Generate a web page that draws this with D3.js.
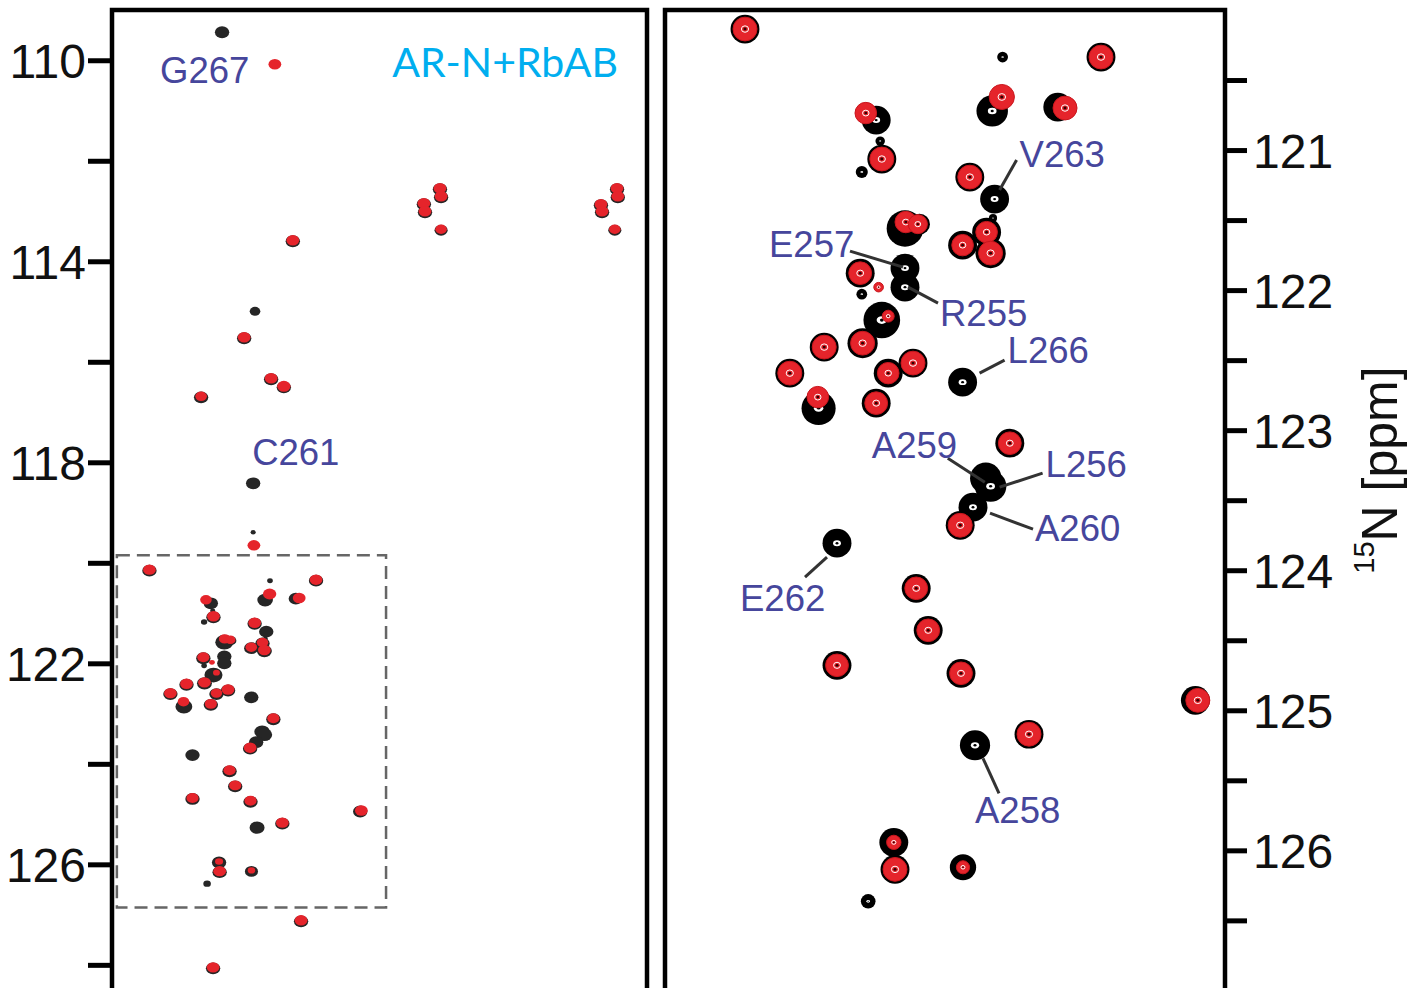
<!DOCTYPE html>
<html lang="en">
<head>
<meta charset="utf-8">
<title>AR-N + RbAB 1H-15N HSQC overlay</title>
<script src="https://d3js.org/d3.v7.min.js"></script>
<style>
  body { margin: 0; background: #fff; }
  svg { display: block; }
  .tick-label { font-family: "Liberation Sans", Arial, sans-serif; font-size: 48px; fill: #111; }
  .res-label { font-family: "Liberation Sans", Arial, sans-serif; font-size: 36.5px; fill: #46469c; }
</style>
</head>
<body>
<script>
"use strict";

// peaks: [1H ppm, 15N ppm, relative contour size]
// free AR-N (black)
const freePeaks = [
  [8.500, 120.136, 1], [8.178, 120.336, 0.3], [8.191, 120.721, 1.1], [8.336, 120.786, 1],
  [8.331, 120.936, 0.25], [8.329, 121.064, 1], [8.354, 121.157, 0.35], [8.219, 121.193, 1],
  [8.188, 121.350, 1], [8.190, 121.486, 0.2], [8.300, 121.560, 1.3], [8.282, 121.529, 0.7],
  [8.228, 121.679, 1], [8.198, 121.586, 1], [8.193, 121.736, 1.05], [8.300, 121.843, 1],
  [8.300, 121.979, 1], [8.356, 121.879, 1], [8.354, 122.029, 0.3], [8.329, 122.214, 1.3],
  [8.401, 122.407, 1], [8.353, 122.379, 1.05], [8.444, 122.593, 1], [8.321, 122.593, 1],
  [8.290, 122.521, 1], [8.228, 122.657, 1], [8.408, 122.843, 1.2], [8.336, 122.807, 1],
  [8.169, 123.093, 1], [8.199, 123.343, 1.1], [8.193, 123.400, 1.1], [8.215, 123.550, 1],
  [8.231, 123.679, 1], [8.385, 123.807, 1], [8.286, 124.129, 1], [8.271, 124.429, 1],
  [8.385, 124.679, 1], [8.230, 124.736, 1], [7.937, 124.929, 1], [8.145, 125.171, 1],
  [8.2125, 125.250, 1.05], [8.314, 125.943, 1], [8.3125, 126.136, 1], [8.2275, 126.121, 0.9],
  [8.346, 126.364, 0.45], [8.055, 120.336, 1], [8.109, 120.693, 1],
  [8.306, 109.423, 1], [7.767, 112.846, 1], [7.764, 113.005, 1], [7.724, 112.547, 1],
  [7.721, 112.706, 1], [7.721, 113.363, 0.9], [7.294, 112.866, 1], [7.291, 113.005, 1],
  [7.251, 112.547, 1], [7.249, 112.706, 1], [7.257, 113.363, 0.9], [8.117, 113.582, 1],
  [8.218, 114.975, 0.7], [8.247, 115.512, 1], [8.175, 116.328, 1], [8.141, 116.488, 1],
  [8.362, 116.687, 1], [8.223, 118.398, 1], [8.223, 119.373, 0.25], [8.095, 127.114, 1],
  [8.330, 128.050, 1]
];

// AR-N + RbAB (red)
const boundPeaks = [
  [8.500, 120.136, 1], [8.179, 120.621, 1.05], [8.349, 120.736, 0.9], [8.329, 121.064, 1],
  [8.219, 121.193, 1], [8.299, 121.514, 0.9], [8.284, 121.529, 0.8], [8.228, 121.679, 0.9],
  [8.198, 121.586, 0.9], [8.193, 121.736, 1], [8.356, 121.879, 0.95], [8.333, 121.979, 0.4],
  [8.321, 122.186, 0.5], [8.401, 122.407, 1], [8.353, 122.379, 1], [8.444, 122.593, 1],
  [8.321, 122.593, 0.9], [8.290, 122.521, 1], [8.409, 122.764, 0.9], [8.336, 122.807, 0.95],
  [8.169, 123.093, 0.95], [8.231, 123.679, 1], [8.286, 124.129, 0.95], [8.271, 124.429, 0.95],
  [8.385, 124.679, 0.95], [8.230, 124.736, 0.95], [7.934, 124.929, 1], [8.145, 125.171, 1],
  [8.314, 125.943, 0.6], [8.3125, 126.136, 1], [8.2275, 126.121, 0.55], [8.055, 120.336, 1],
  [8.100, 120.700, 1],
  [8.165, 110.080, 1], [7.767, 112.846, 1], [7.764, 113.005, 1], [7.724, 112.547, 1],
  [7.721, 112.706, 1], [7.721, 113.363, 0.9], [7.294, 112.866, 1], [7.291, 113.005, 1],
  [7.251, 112.547, 1], [7.249, 112.706, 1], [7.257, 113.363, 0.9], [8.117, 113.582, 1],
  [8.247, 115.512, 1], [8.175, 116.328, 1], [8.141, 116.488, 1.05], [8.362, 116.687, 0.9],
  [8.221, 119.652, 1], [8.095, 127.114, 1], [8.330, 128.050, 1]
];

// residues that lose their peak on binding
const resNames = ["G267", "C261", "V263", "E257", "R255", "L266", "A259", "L256", "A260", "E262", "A258"];
const resPeaks = [
  [8.306, 109.423], [8.223, 118.398], [8.188, 121.350], [8.300, 121.843], [8.300, 121.979],
  [8.228, 122.657], [8.199, 123.343], [8.193, 123.400], [8.215, 123.550], [8.385, 123.807],
  [8.2125, 125.250]
];
const resPanel = ["left", "left", "right", "right", "right", "right", "right", "right", "right", "right", "right"];

const leftTicks = [110, 112, 114, 116, 118, 120, 122, 124, 126, 128];
const leftTickLabels = [110, 114, 118, 122, 126];
const rightTicks = [120.5, 121, 121.5, 122, 122.5, 123, 123.5, 124, 124.5, 125, 125.5, 126, 126.5];
const rightTickLabels = [121, 122, 123, 124, 125, 126];

const leftH = [8.6, 7.171], leftN = [109.0, 128.62];
const rightH = [8.6, 7.9], rightN = [120.0, 127.04];
const zoomBoxH = [8.587, 7.868], zoomBoxN = [119.85, 126.86];

const title = "AR-N+RbAB";
const axisTitle = ["15", "N [ppm]"];

// half line widths (ppm)
const lwH = 0.015, lwN = 0.085;

const W = 1412, H = 988;
const plotTop = 10, plotBottom = 996;

const svg = d3.select("body").append("svg")
  .attr("width", W).attr("height", H);

// label layout (px offsets from the peak): text origin, leader line start/end
const labelLayout = {
  G267: { tx: -62, ty: 52 },
  C261: { tx: -1, ty: -17 },
  V263: { tx: 25, ty: -32, line: [22, -39, 5, -9] },
  E257: { tx: -136, ty: -11, line: [-55, -17, -2, -1] },
  R255: { tx: 35, ty: 39, line: [3, 0, 33, 16] },
  L266: { tx: 45, ty: -19, line: [17, -9, 42, -22] },
  A259: { tx: -114, ty: -20, line: [-38, -20, -1, 4] },
  L256: { tx: 55, ty: -9, line: [52, -13, 9, 1] },
  A260: { tx: 62, ty: 34, line: [60, 22, 17, 6] },
  E262: { tx: -97, ty: 68, line: [-32, 34, -10, 14] },
  A258: { tx: 0, ty: 78, line: [8, 13, 24, 48] }
};

function makePanel(id, x0, x1, hDom, nDom) {
  const x = d3.scaleLinear().domain(hDom).range([x0, x1]);
  const y = d3.scaleLinear().domain(nDom).range([plotTop, plotBottom]);
  svg.append("clipPath").attr("id", id)
    .append("rect").attr("x", x0).attr("y", plotTop).attr("width", x1 - x0).attr("height", plotBottom - plotTop);
  const g = svg.append("g").attr("clip-path", "url(#" + id + ")");
  return { x, y, g, x0, x1 };
}

const left = makePanel("clipL", 112, 647, leftH, leftN);
const right = makePanel("clipR", 665, 1225, rightH, rightN);

function radii(p, s) {
  return [s * Math.abs(p.x(lwH) - p.x(0)), s * Math.abs(p.y(lwN) - p.y(0))];
}

// left panel: overview, peaks as filled dots
left.g.selectAll("ellipse.free").data(freePeaks).enter().append("ellipse")
  .attr("cx", d => left.x(d[0])).attr("cy", d => left.y(d[1]) + 1)
  .attr("rx", d => radii(left, d[2])[0] * 1.1 + 1)
  .attr("ry", d => radii(left, d[2])[1] * 1.15 + 1)
  .attr("fill", "#262626");

left.g.selectAll("ellipse.bound").data(boundPeaks).enter().append("ellipse")
  .attr("cx", d => left.x(d[0])).attr("cy", d => left.y(d[1]))
  .attr("rx", d => radii(left, d[2])[0] * 1.05 + 0.5)
  .attr("ry", d => radii(left, d[2])[1] * 1.1 + 0.5)
  .attr("fill", "#e5242b");

// zoom box
left.g.append("rect")
  .attr("x", left.x(zoomBoxH[0])).attr("y", left.y(zoomBoxN[0]))
  .attr("width", left.x(zoomBoxH[1]) - left.x(zoomBoxH[0]))
  .attr("height", left.y(zoomBoxN[1]) - left.y(zoomBoxN[0]))
  .attr("fill", "none").attr("stroke", "#666").attr("stroke-width", 2.5)
  .attr("stroke-dasharray", "13,7");

// right panel: contour-like rings
const fp = right.g.selectAll("g.free").data(freePeaks).enter().append("g")
  .attr("transform", d => "translate(" + right.x(d[0]) + "," + right.y(d[1]) + ")");
fp.append("ellipse")
  .attr("rx", d => radii(right, d[2])[0] * 1.08 + 1.5)
  .attr("ry", d => radii(right, d[2])[1] * 1.08 + 1.5)
  .attr("fill", "#000");
fp.append("ellipse")
  .attr("rx", d => radii(right, d[2])[0] * 0.33)
  .attr("ry", d => radii(right, d[2])[1] * 0.25)
  .attr("fill", "#fff");
fp.append("ellipse")
  .attr("rx", d => radii(right, d[2])[0] * 0.12)
  .attr("ry", d => radii(right, d[2])[1] * 0.1)
  .attr("fill", "#000");

const bp = right.g.selectAll("g.bound").data(boundPeaks).enter().append("g")
  .attr("transform", d => "translate(" + right.x(d[0]) + "," + right.y(d[1]) + ")");
bp.append("ellipse")
  .attr("rx", d => radii(right, d[2])[0])
  .attr("ry", d => radii(right, d[2])[1])
  .attr("fill", "#e5242b").attr("stroke", "#c9161d").attr("stroke-width", 1);
bp.append("ellipse")
  .attr("rx", d => radii(right, d[2])[0] * 0.3)
  .attr("ry", d => radii(right, d[2])[1] * 0.27)
  .attr("fill", "none").attr("stroke", "#fff").attr("stroke-width", 1);
bp.append("ellipse")
  .attr("rx", d => radii(right, d[2])[0] * 0.13)
  .attr("ry", d => radii(right, d[2])[1] * 0.12)
  .attr("fill", "#300");

// residue labels
resNames.forEach(function(name, i) {
  const p = resPanel[i] === "left" ? left : right;
  const px = p.x(resPeaks[i][0]), py = p.y(resPeaks[i][1]);
  const lay = labelLayout[name];
  if (lay.line) {
    svg.append("line")
      .attr("x1", px + lay.line[0]).attr("y1", py + lay.line[1])
      .attr("x2", px + lay.line[2]).attr("y2", py + lay.line[3])
      .attr("stroke", "#333").attr("stroke-width", 3);
  }
  svg.append("text").attr("class", "res-label")
    .attr("x", px + lay.tx).attr("y", py + lay.ty)
    .text(name);
});

// frames
[left, right].forEach(function(p) {
  svg.append("rect")
    .attr("x", p.x0).attr("y", plotTop)
    .attr("width", p.x1 - p.x0).attr("height", plotBottom - plotTop)
    .attr("fill", "none").attr("stroke", "#000").attr("stroke-width", 4.5);
});

// left axis
const lAxis = svg.append("g").attr("transform", "translate(" + left.x0 + ",0)")
  .call(d3.axisLeft(left.y).tickValues(leftTicks).tickSize(24)
    .tickFormat(d => leftTickLabels.includes(d) ? d : ""));
lAxis.select(".domain").remove();
lAxis.selectAll(".tick line").attr("stroke", "#000").attr("stroke-width", 5);
lAxis.selectAll(".tick text").attr("class", "tick-label").attr("x", -26).attr("dy", "0.36em");
lAxis.attr("font-size", null).attr("font-family", null);

// right axis
const rAxis = svg.append("g").attr("transform", "translate(" + right.x1 + ",0)")
  .call(d3.axisRight(right.y).tickValues(rightTicks).tickSize(22)
    .tickFormat(d => rightTickLabels.includes(d) ? d : ""));
rAxis.select(".domain").remove();
rAxis.selectAll(".tick line").attr("stroke", "#000").attr("stroke-width", 5);
rAxis.selectAll(".tick text").attr("class", "tick-label").attr("x", 28).attr("dy", "0.36em");
rAxis.attr("font-size", null).attr("font-family", null);

// axis title
const at = svg.append("text")
  .attr("transform", "translate(1396,470) rotate(-90)")
  .attr("text-anchor", "middle")
  .style("font-family", "'Liberation Sans', Arial, sans-serif")
  .style("font-size", "50px").style("fill", "#111");
at.append("tspan").text(axisTitle[0]).style("font-size", "29px").attr("dy", "-0.75em");
at.append("tspan").text(axisTitle[1]).attr("dy", "0.45em");

// title
svg.append("text")
  .attr("x", 618).attr("y", 77).attr("text-anchor", "end")
  .style("font-family", "Lato, 'Open Sans', sans-serif")
  .style("font-size", "41px").style("fill", "#00aeef")
  .text(title);
</script>
</body>
</html>
